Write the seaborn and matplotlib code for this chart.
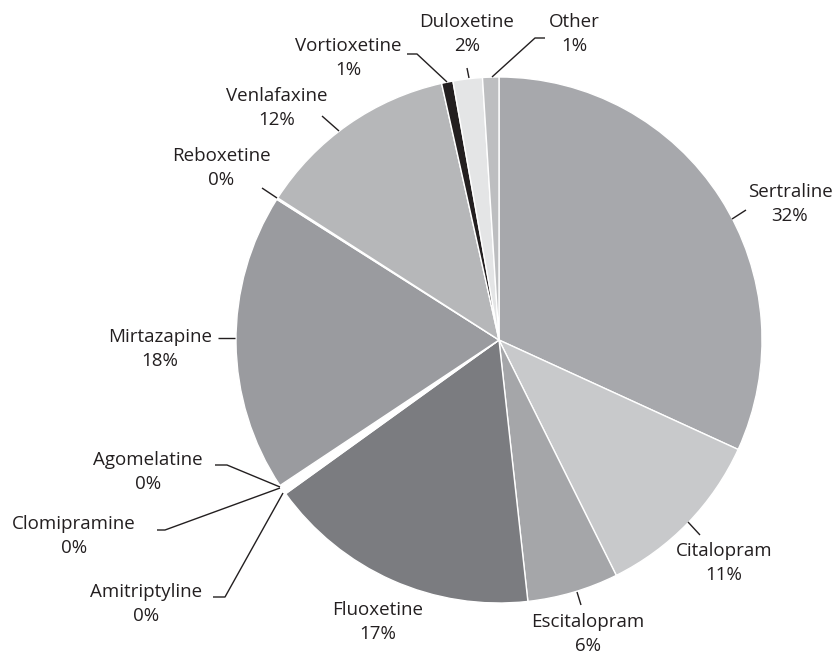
import matplotlib
matplotlib.use("Agg")
import matplotlib.pyplot as plt
import seaborn as sns

# Antidepressant share (clockwise from 12 o'clock)
drugs = ["Sertraline", "Citalopram", "Escitalopram", "Fluoxetine",
         "Amitriptyline", "Clomipramine", "Agomelatine", "Mirtazapine",
         "Reboxetine", "Venlafaxine", "Vortioxetine", "Duloxetine", "Other"]
shares = [31.8, 10.8, 5.6, 16.8, 0.2, 0.2, 0.2, 18.3, 0.1, 12.4, 0.7, 1.8, 1.0]
pct_labels = ["32%", "11%", "6%", "17%", "0%", "0%", "0%", "18%", "0%",
              "12%", "1%", "2%", "1%"]
colors = ["#a7a8ac", "#c8c9cb", "#a5a6a9", "#7b7c80", "#ffffff", "#ffffff",
          "#ffffff", "#9a9b9f", "#ffffff", "#b6b7b9", "#231f20", "#e4e5e6",
          "#bdbec0"]

# label layout in pixel coords (y from top)
label_pos = {
    "Sertraline": (790, 204), "Citalopram": (724, 563),
    "Escitalopram": (588, 634), "Fluoxetine": (378, 622),
    "Amitriptyline": (146, 604), "Clomipramine": (74, 536),
    "Agomelatine": (148, 472), "Mirtazapine": (160, 349),
    "Reboxetine": (221, 168), "Venlafaxine": (277, 108),
    "Vortioxetine": (348, 58), "Duloxetine": (467, 34), "Other": (574, 34),
}
leaders = {
    "Sertraline": [(746, 210), (732, 219)],
    "Citalopram": [(700, 535), (688, 522)],
    "Escitalopram": [(581, 605), (577, 592)],
    "Amitriptyline": [(213, 597), (225, 597), (283, 493)],
    "Clomipramine": [(157, 530), (165, 530), (280, 488)],
    "Agomelatine": [(215, 465), (227, 465), (280, 487)],
    "Mirtazapine": [(218, 338), (235, 338)],
    "Reboxetine": [(262, 188), (277, 198)],
    "Venlafaxine": [(322, 116), (339, 131)],
    "Vortioxetine": [(407, 54), (417, 54), (447, 82)],
    "Duloxetine": [(467, 68), (469, 78)],
    "Other": [(545, 38), (535, 38), (492, 77)],
}

W, H = 839, 657

sns.set_theme(style="white")
plt.rcParams["font.family"] = ["Open Sans", "DejaVu Sans"]

fig = plt.figure(figsize=(W / 100, H / 100), dpi=100)
ax = fig.add_axes([0, 0, 1, 1])

ax.pie(shares, colors=colors, startangle=90, counterclock=False,
       center=(499, H - 340), radius=263,
       wedgeprops=dict(edgecolor="white", linewidth=1.0))

ax.set_xlim(0, W)
ax.set_ylim(0, H)
ax.set_aspect("equal")
ax.axis("off")

ink = "#231f20"
for name, pct in zip(drugs, pct_labels):
    x, y = label_pos[name]
    ax.text(x, H - y, f"{name}\n{pct}", ha="center", va="center",
            fontsize=13.5, color=ink, linespacing=1.4)
    if name in leaders:
        pts = leaders[name]
        ax.plot([p[0] for p in pts], [H - p[1] for p in pts],
                color=ink, lw=1.0, solid_capstyle="butt")

fig.savefig("out.png", dpi=100)
